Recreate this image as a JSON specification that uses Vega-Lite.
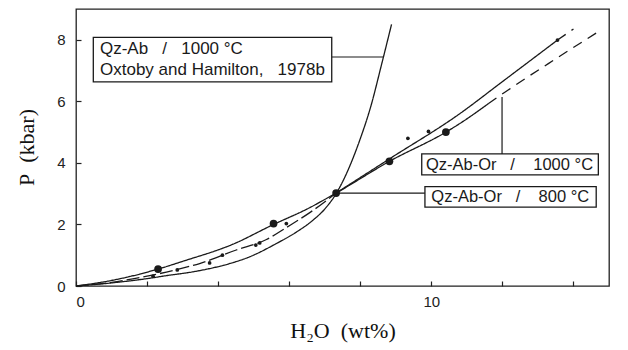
{
  "$schema": "https://vega.github.io/schema/vega-lite/v6.json",
  "width": 533,
  "height": 277,
  "autosize": "none",
  "padding": {"left": 76, "top": 9, "right": 19, "bottom": 64},
  "background": "white",
  "config": {
    "view": {"stroke": "#222", "strokeWidth": 1.3},
    "axis": {
      "grid": false,
      "labelFont": "Liberation Sans",
      "labelFontSize": 15,
      "labelColor": "#222",
      "titleFont": "Liberation Serif",
      "titleFontSize": 22,
      "titleFontWeight": "normal",
      "titleColor": "#111"
    }
  },
  "datasets": {
    "lines": [
      {"series": "qzab", "dash": "solid", "x": 0, "p": 0},
      {"series": "qzab", "dash": "solid", "x": 1, "p": 0.1},
      {"series": "qzab", "dash": "solid", "x": 2, "p": 0.24},
      {"series": "qzab", "dash": "solid", "x": 2.45, "p": 0.32},
      {"series": "qzab", "dash": "solid", "x": 3.48, "p": 0.5},
      {"series": "qzab", "dash": "solid", "x": 4.3, "p": 0.72},
      {"series": "qzab", "dash": "solid", "x": 4.89, "p": 0.95},
      {"series": "qzab", "dash": "solid", "x": 5.64, "p": 1.38},
      {"series": "qzab", "dash": "solid", "x": 6.2, "p": 1.75},
      {"series": "qzab", "dash": "solid", "x": 6.67, "p": 2.14},
      {"series": "qzab", "dash": "solid", "x": 7.0, "p": 2.5},
      {"series": "qzab", "dash": "solid", "x": 7.32, "p": 3.0},
      {"series": "qzab", "dash": "solid", "x": 7.5, "p": 3.38},
      {"series": "qzab", "dash": "solid", "x": 7.98, "p": 4.72},
      {"series": "qzab", "dash": "solid", "x": 8.3, "p": 5.85},
      {"series": "qzab", "dash": "solid", "x": 8.6, "p": 7.2},
      {"series": "qzab", "dash": "solid", "x": 8.88, "p": 8.5},
      {"series": "t1000a", "dash": "solid", "x": 0, "p": 0},
      {"series": "t1000a", "dash": "solid", "x": 1, "p": 0.18},
      {"series": "t1000a", "dash": "solid", "x": 2.31, "p": 0.55},
      {"series": "t1000a", "dash": "solid", "x": 3, "p": 0.8},
      {"series": "t1000a", "dash": "solid", "x": 4.4, "p": 1.35},
      {"series": "t1000a", "dash": "solid", "x": 5.56, "p": 2.0},
      {"series": "t1000a", "dash": "solid", "x": 6.5, "p": 2.5},
      {"series": "t1000a", "dash": "solid", "x": 7.32, "p": 3.02},
      {"series": "t1000a", "dash": "solid", "x": 8.82, "p": 4.05},
      {"series": "t1000a", "dash": "solid", "x": 10.41, "p": 5.0},
      {"series": "t1000a", "dash": "solid", "x": 10.79, "p": 5.27},
      {"series": "t1000a", "dash": "solid", "x": 11.6, "p": 5.92},
      {"series": "t1000b", "dash": "short", "x": 11.6, "p": 5.92},
      {"series": "t1000b", "dash": "short", "x": 12.1, "p": 6.32},
      {"series": "t1000b", "dash": "short", "x": 13.5, "p": 7.38},
      {"series": "t1000b", "dash": "short", "x": 14.75, "p": 8.3},
      {"series": "t800a", "dash": "long", "x": 0, "p": 0},
      {"series": "t800a", "dash": "long", "x": 1, "p": 0.12},
      {"series": "t800a", "dash": "long", "x": 2, "p": 0.32},
      {"series": "t800a", "dash": "long", "x": 2.97, "p": 0.57},
      {"series": "t800a", "dash": "long", "x": 3.48, "p": 0.73},
      {"series": "t800a", "dash": "long", "x": 4.51, "p": 1.17},
      {"series": "t800a", "dash": "long", "x": 5.36, "p": 1.51},
      {"series": "t800a", "dash": "long", "x": 5.92, "p": 1.9},
      {"series": "t800a", "dash": "long", "x": 6.6, "p": 2.4},
      {"series": "t800a", "dash": "long", "x": 7.32, "p": 3.02},
      {"series": "t800b", "dash": "solid", "x": 7.32, "p": 3.02},
      {"series": "t800b", "dash": "solid", "x": 8.82, "p": 4.13},
      {"series": "t800b", "dash": "solid", "x": 10.79, "p": 5.59},
      {"series": "t800b", "dash": "solid", "x": 12, "p": 6.64},
      {"series": "t800b", "dash": "solid", "x": 13.55, "p": 7.99},
      {"series": "t800c", "dash": "short", "x": 13.55, "p": 7.99},
      {"series": "t800c", "dash": "short", "x": 14.0, "p": 8.35}
    ],
    "points": [
      {"kind": "big", "x": 2.31, "p": 0.55},
      {"kind": "big", "x": 5.56, "p": 2.03},
      {"kind": "big", "x": 7.32, "p": 3.02},
      {"kind": "big", "x": 8.82, "p": 4.05},
      {"kind": "big", "x": 10.41, "p": 5.0},
      {"kind": "small", "x": 2.17, "p": 0.32},
      {"kind": "small", "x": 2.85, "p": 0.52},
      {"kind": "small", "x": 3.76, "p": 0.75},
      {"kind": "small", "x": 4.12, "p": 1.0},
      {"kind": "small", "x": 5.06, "p": 1.33},
      {"kind": "small", "x": 5.17, "p": 1.4},
      {"kind": "small", "x": 5.92, "p": 2.03},
      {"kind": "small", "x": 9.34, "p": 4.8},
      {"kind": "small", "x": 9.92, "p": 5.02},
      {"kind": "small", "x": 13.55, "p": 7.99}
    ],
    "boxes": [
      {"x": 0.487, "x2": 7.197, "p": 8.08, "p2": 6.63},
      {"x": 9.73, "x2": 14.7, "p": 4.29, "p2": 3.61},
      {"x": 9.82, "x2": 14.64, "p": 3.23, "p2": 2.56}
    ],
    "connectors": [
      {"x": 7.197, "x2": 8.64, "p": 7.44, "p2": 7.44},
      {"x": 11.99, "x2": 11.99, "p": 4.29, "p2": 6.14},
      {"x": 7.35, "x2": 9.82, "p": 3.02, "p2": 3.02}
    ],
    "labels": [
      {"x": 0.675, "p": 7.7, "size": 17, "text": "Qz-Ab\u00a0\u00a0\u00a0/\u00a0\u00a0\u00a01000\u00a0°C"},
      {"x": 0.675, "p": 7.02, "size": 17, "text": "Oxtoby and Hamilton,\u00a0\u00a0\u00a01978b"},
      {"x": 9.85, "p": 3.93, "size": 16.5, "text": "Qz-Ab-Or\u00a0\u00a0\u00a0/\u00a0\u00a0\u00a0\u00a01000\u00a0°C"},
      {"x": 10.0, "p": 2.89, "size": 16.5, "text": "Qz-Ab-Or\u00a0\u00a0\u00a0/\u00a0\u00a0\u00a0\u00a0800\u00a0°C"}
    ]
  },
  "layer": [
    {
      "data": {"name": "lines"},
      "mark": {"type": "line", "color": "#1a1a1a", "strokeWidth": 1.3, "interpolate": "monotone"},
      "encoding": {
        "x": {
          "field": "x", "type": "quantitative",
          "scale": {"domain": [0, 15], "nice": false, "zero": false},
          "axis": {
            "orient": "bottom",
            "offset": -5,
            "domainOpacity": 0,
            "tickColor": "#222",
            "tickSize": 5,
            "tickWidth": 1.2,
            "values": [0, 1, 2, 3, 4, 5, 6, 7, 8, 9, 10, 11, 12, 13, 14, 15],
            "labelExpr": "datum.value % 5 === 0 ? datum.label : ''",
            "labelPadding": 8,
            "title": "H₂O\u00a0\u00a0(wt%)",
            "titleY": 49,
            "titleBaseline": "middle"
          }
        },
        "y": {
          "field": "p", "type": "quantitative",
          "scale": {"domain": [0, 9], "nice": false, "zero": false},
          "axis": {
            "orient": "left",
            "offset": -5,
            "domainOpacity": 0,
            "tickColor": "#222",
            "tickSize": 5,
            "tickWidth": 1.2,
            "values": [0, 1, 2, 3, 4, 5, 6, 7, 8, 9],
            "labelExpr": "datum.value % 2 === 0 ? datum.label : ''",
            "labelPadding": 11,
            "title": "P\u00a0\u00a0(kbar)",
            "titleX": -55,
            "titleY": 138,
            "titleBaseline": "middle",
            "titleAngle": -90
          }
        },
        "detail": {"field": "series"},
        "strokeDash": {
          "field": "dash", "type": "nominal",
          "scale": {"domain": ["solid", "long", "short"], "range": [[1, 0], [13, 4], [10, 7]]},
          "legend": null
        }
      }
    },
    {
      "data": {"name": "points"},
      "mark": {"type": "point", "filled": true, "color": "#1a1a1a", "opacity": 1},
      "encoding": {
        "x": {"field": "x", "type": "quantitative"},
        "y": {"field": "p", "type": "quantitative"},
        "size": {
          "field": "kind", "type": "nominal",
          "scale": {"domain": ["big", "small"], "range": [60, 14]},
          "legend": null
        }
      }
    },
    {
      "data": {"name": "connectors"},
      "mark": {"type": "rule", "color": "#1a1a1a", "strokeWidth": 1.2},
      "encoding": {
        "x": {"field": "x", "type": "quantitative"},
        "x2": {"field": "x2"},
        "y": {"field": "p", "type": "quantitative"},
        "y2": {"field": "p2"}
      }
    },
    {
      "data": {"name": "boxes"},
      "mark": {"type": "rect", "fill": "white", "stroke": "#1a1a1a", "strokeWidth": 1.3},
      "encoding": {
        "x": {"field": "x", "type": "quantitative"},
        "x2": {"field": "x2"},
        "y": {"field": "p", "type": "quantitative"},
        "y2": {"field": "p2"}
      }
    },
    {
      "data": {"name": "labels"},
      "mark": {"type": "text", "align": "left", "baseline": "middle", "font": "Liberation Sans", "color": "#1a1a1a"},
      "encoding": {
        "x": {"field": "x", "type": "quantitative"},
        "y": {"field": "p", "type": "quantitative"},
        "text": {"field": "text"},
        "size": {"field": "size", "type": "quantitative", "scale": null, "legend": null}
      }
    }
  ]
}
